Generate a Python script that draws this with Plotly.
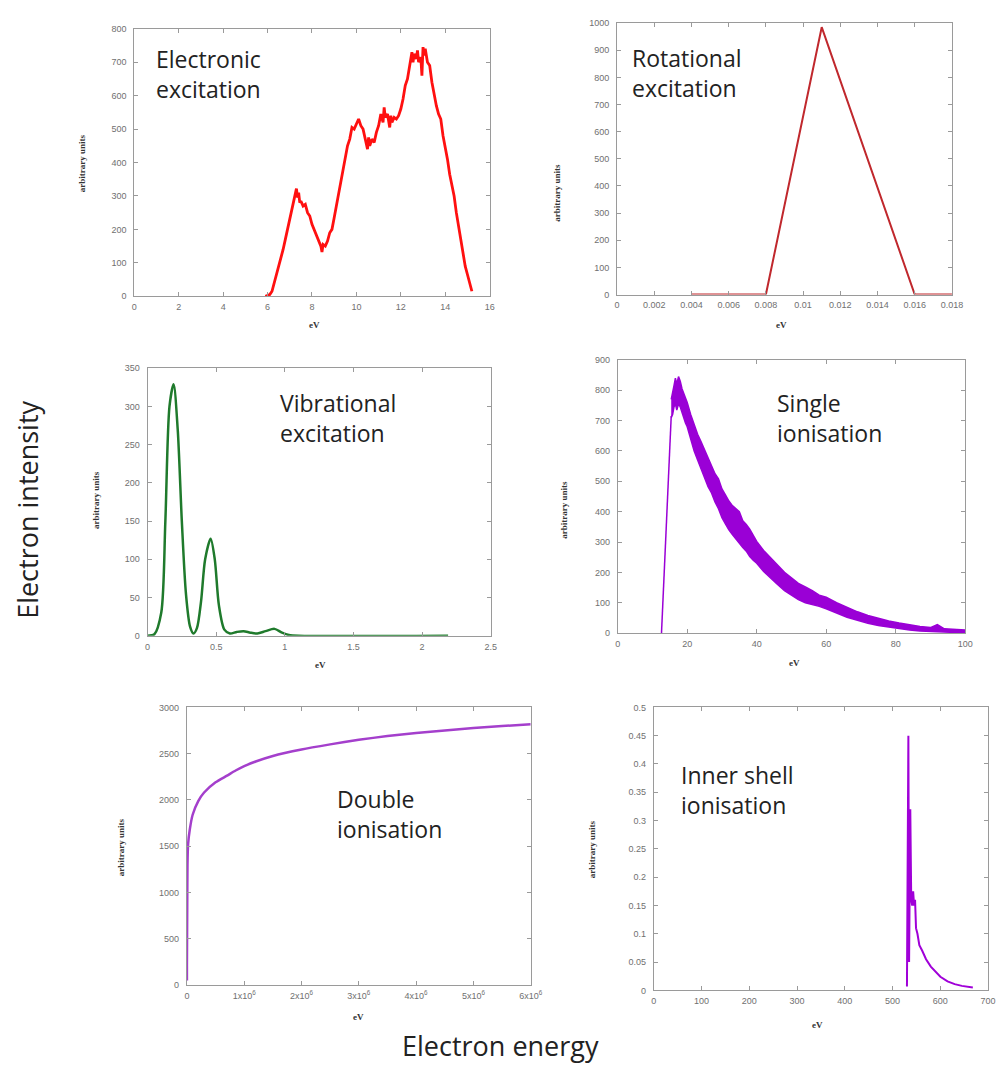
import plotly.graph_objects as go

# ---------------- data ----------------
electronic = [(5.9,0),(6.0,3),(6.1,5),(6.2,15),(6.3,40),(6.4,60),(6.5,85),(6.6,110),(6.7,140),(6.8,170),
              (6.9,200),(7.0,225),(7.1,255),(7.2,285),(7.25,300),(7.3,322),(7.35,295),(7.4,310),(7.45,280),
              (7.5,285),(7.6,270),(7.7,275),(7.8,250),(7.9,240),(8.0,215),(8.1,200),(8.2,180),(8.3,165),
              (8.4,150),(8.45,132),(8.5,155),(8.6,150),(8.7,165),(8.8,190),(8.9,200),(9.0,235),(9.1,270),
              (9.2,300),(9.3,340),(9.4,380),(9.5,410),(9.6,450),(9.7,470),(9.8,505),(9.9,500),(10.0,515),
              (10.1,530),(10.2,510),(10.3,500),(10.4,470),(10.5,440),(10.55,475),(10.6,450),(10.7,470),
              (10.8,460),(10.9,490),(11.0,510),(11.1,545),(11.2,520),(11.25,565),(11.3,535),(11.4,545),
              (11.5,505),(11.55,540),(11.6,520),(11.7,535),(11.8,530),(11.9,540),(12.0,560),(12.1,590),
              (12.2,630),(12.3,650),(12.4,690),(12.5,730),(12.55,700),(12.6,725),(12.7,710),(12.75,735),
              (12.8,700),(12.9,715),(12.95,660),(13.0,745),(13.05,720),(13.1,740),(13.2,700),(13.3,690),
              (13.4,640),(13.5,600),(13.6,570),(13.7,545),(13.8,530),(13.9,480),(14.0,450),(14.1,410),
              (14.2,365),(14.3,330),(14.4,300),(14.5,250),(14.6,210),(14.7,160),(14.8,130),(14.9,90),
              (15.0,65),(15.1,40),(15.2,15)]

rot_x = [0.004, 0.008, 0.011, 0.016, 0.018]
rot_y = [0, 0, 985, 0, 0]

vib_x = [0, 0.05, 0.1, 0.13, 0.16, 0.19, 0.22, 0.25, 0.28, 0.31, 0.335, 0.36, 0.39, 0.42, 0.46, 0.49,
         0.52, 0.56, 0.6, 0.65, 0.7, 0.75, 0.8, 0.86, 0.925, 0.98, 1.03, 1.1, 2.19]
vib_y = [0, 2, 30, 150, 300, 329, 270, 150, 55, 12, 3, 10, 45, 100, 127, 100, 40, 8, 3, 5, 6, 4, 3, 6,
         9, 4, 1, 0, 0]

single_rise_x = [12.6, 15.4]
single_rise_y = [0, 715]
single_x = [15.4, 15.8, 16.2, 16.6, 17, 17.5, 18, 18.5, 19, 19.5, 20, 21, 22, 23, 24, 25, 26, 27, 28,
            29, 30, 31, 32, 33, 34, 35, 36, 37, 38, 39, 40, 42, 44, 46, 48, 50, 52, 54, 56, 58, 60, 63,
            66, 69, 72, 75, 78, 81, 84, 87, 90, 92, 94, 97, 100]
single_upper = [770, 800, 815, 840, 820, 845, 830, 805, 790, 770, 760, 720, 685, 655, 630, 605, 575,
                550, 525, 508, 475, 455, 435, 420, 410, 400, 370, 358, 342, 320, 302, 272, 247, 222,
                200, 182, 164, 152, 140, 125, 118, 100, 85, 70, 58, 48, 40, 33, 27, 22, 18, 28, 14,
                12, 10]
single_lower = [710, 720, 745, 755, 735, 755, 745, 725, 712, 692, 680, 640, 600, 570, 540, 510, 482,
                462, 432, 410, 380, 360, 340, 325, 310, 296, 282, 270, 252, 240, 230, 203, 180, 160,
                140, 124, 110, 100, 95, 88, 80, 65, 52, 42, 32, 25, 20, 14, 10, 7, 5, 4, 3, 2, 2]

double_x = [0, 0, 5000, 10000, 20000, 50000, 100000, 200000, 300000, 500000, 700000, 850000, 1e6,
            1.2e6, 1.5e6, 2e6, 2.5e6, 3e6, 3.5e6, 4e6, 4.5e6, 5e6, 5.5e6, 6e6]
double_y = [50, 200, 800, 1300, 1520, 1680, 1840, 1990, 2080, 2190, 2262, 2318, 2365, 2415, 2475,
            2545, 2600, 2650, 2690, 2722, 2750, 2776, 2798, 2818]

inner_x = [530, 533, 534.5, 537, 539, 541, 543, 545, 547, 549, 552, 556, 562, 570, 580, 590, 600,
           615, 630, 645, 660, 668]
inner_y = [0.007, 0.45, 0.05, 0.32, 0.16, 0.15, 0.175, 0.15, 0.16, 0.11, 0.1, 0.08, 0.07, 0.055,
           0.042, 0.032, 0.024, 0.016, 0.011, 0.008, 0.006, 0.005]

panel_titles = ["Electronic<br>excitation", "Rotational<br>excitation", "Vibrational<br>excitation",
                "Single<br>ionisation", "Double<br>ionisation", "Inner shell<br>ionisation"]

# ---------------- layout geometry (pixels) ----------------
W, H = 1008, 1069
boxes = [  # left, right, top, bottom
    (133.3, 494.0, 24.0, 294.0),
    (623.3, 963.3, 18.3, 292.3),
    (146.7, 495.0, 366.7, 636.7),
    (624.0, 976.7, 358.3, 634.0),
    (186.7, 535.7, 709.0, 989.3),
    (660.7, 1000.0, 709.0, 994.7),
]
xranges = [[0, 16], [0, 0.018], [0, 2.5], [0, 100], [0, 6e6], [0, 700]]
yranges = [[0, 800], [0, 1000], [0, 350], [0, 900], [0, 3000], [0, 0.5]]
xdt = [2, 0.002, 0.5, 20, 1e6, 100]
ydt = [100, 100, 50, 100, 500, 0.05]
title_pos = [(153, 70), (636, 69), (279, 417), (784, 417), (337, 817), (686, 792)]
ylab_pos = [(80, 160), (563, 190), (95, 500), (570, 510), (120, 850), (598, 852)]
xlab_pos = [(316, 323), (790, 323), (322, 666), (803, 664), (361, 1022), (827, 1030)]


def px(x):
    return x / W


def py(y):
    return 1 - y / H


fig = go.Figure()

def ax(i):
    return ("x" if i == 0 else f"x{i+1}"), ("y" if i == 0 else f"y{i+1}")

# electronic
xa, ya = ax(0)
fig.add_trace(go.Scatter(x=[p[0] for p in electronic], y=[p[1] for p in electronic], mode="lines",
                         line=dict(color="#ff1010", width=2.8), xaxis=xa, yaxis=ya))
# rotational
xa, ya = ax(1)
fig.add_trace(go.Scatter(x=rot_x, y=rot_y, mode="lines", line=dict(color="#c0282d", width=2),
                         xaxis=xa, yaxis=ya))
# vibrational
xa, ya = ax(2)
fig.add_trace(go.Scatter(x=vib_x, y=vib_y, mode="lines", line=dict(color="#1f7a2c", width=2.5,
                         shape="spline", smoothing=0.8), xaxis=xa, yaxis=ya))
# single ionisation
xa, ya = ax(3)
fig.add_trace(go.Scatter(x=single_rise_x, y=single_rise_y, mode="lines",
                         line=dict(color="#9a00d6", width=1.5), xaxis=xa, yaxis=ya))
fig.add_trace(go.Scatter(x=single_x, y=single_upper, mode="lines",
                         line=dict(color="#9a00d6", width=1.5), xaxis=xa, yaxis=ya))
fig.add_trace(go.Scatter(x=single_x, y=single_lower, mode="lines", fill="tonexty",
                         fillcolor="#9a00d6", line=dict(color="#9a00d6", width=1.5),
                         xaxis=xa, yaxis=ya))
# double ionisation
xa, ya = ax(4)
fig.add_trace(go.Scatter(x=double_x, y=double_y, mode="lines", line=dict(color="#a43fcc", width=2.5,
                         shape="spline", smoothing=0.5), xaxis=xa, yaxis=ya))
# inner shell
xa, ya = ax(5)
fig.add_trace(go.Scatter(x=inner_x, y=inner_y, mode="lines", line=dict(color="#a000d8", width=2),
                         xaxis=xa, yaxis=ya))

tickfont = dict(family="Liberation Sans", size=9, color="#707070")
layout = dict(width=W, height=H, margin=dict(l=0, r=0, t=0, b=0), showlegend=False,
              paper_bgcolor="white", plot_bgcolor="white")

for i, (l, r, t, b) in enumerate(boxes):
    xk = "xaxis" if i == 0 else f"xaxis{i+1}"
    yk = "yaxis" if i == 0 else f"yaxis{i+1}"
    xa, ya = ax(i)
    xd = dict(domain=[px(l), px(r)], range=xranges[i], anchor=ya, showgrid=False, zeroline=False,
              showline=True, linecolor="#9a9a9a", linewidth=1, mirror="ticks", ticks="inside",
              ticklen=4, tickcolor="#9a9a9a", dtick=xdt[i], tick0=0, tickfont=tickfont,
              ticklabelstandoff=2)
    if i == 4:
        xd.update(tickmode="array", tickvals=[0, 1e6, 2e6, 3e6, 4e6, 5e6, 6e6],
                  ticktext=["0"] + [f"{k}x10<sup>6</sup>" for k in range(1, 7)])
    yd = dict(domain=[py(b), py(t)], range=yranges[i], anchor=xa, showgrid=False, zeroline=False,
              showline=True, linecolor="#9a9a9a", linewidth=1, mirror="ticks", ticks="inside",
              ticklen=4, tickcolor="#9a9a9a", dtick=ydt[i], tick0=0, tickfont=tickfont,
              ticklabelstandoff=5)
    layout[xk] = xd
    layout[yk] = yd

annotations = []
for i in range(6):
    tx, ty = title_pos[i]
    annotations.append(dict(x=px(tx), y=py(ty), xref="paper", yref="paper", xanchor="left",
                            yanchor="middle", align="left", showarrow=False, text=panel_titles[i],
                            font=dict(family="Open Sans", size=23, color="#222")))
    lx, ly = ylab_pos[i]
    annotations.append(dict(x=px(lx), y=py(ly), xref="paper", yref="paper", showarrow=False,
                            xanchor="center", yanchor="middle",
                            text="<b>arbitrary units</b>", textangle=-90,
                            font=dict(family="Liberation Serif", size=9, color="#333")))
    ex, ey = xlab_pos[i]
    annotations.append(dict(x=px(ex), y=py(ey), xref="paper", yref="paper", showarrow=False,
                            xanchor="center", yanchor="middle",
                            text="<b>eV</b>", font=dict(family="Liberation Serif", size=9, color="#333")))

annotations.append(dict(x=px(25), y=py(510), xref="paper", yref="paper", showarrow=False,
                        xanchor="center", yanchor="middle",
                        text="Electron intensity", textangle=-90,
                        font=dict(family="Open Sans", size=27, color="#222")))
annotations.append(dict(x=px(505), y=py(1050), xref="paper", yref="paper", showarrow=False,
                        xanchor="center", yanchor="middle",
                        text="Electron energy", font=dict(family="Open Sans", size=27, color="#222")))

layout["annotations"] = annotations
fig.update_layout(**layout)
fig.write_html("out.html")
